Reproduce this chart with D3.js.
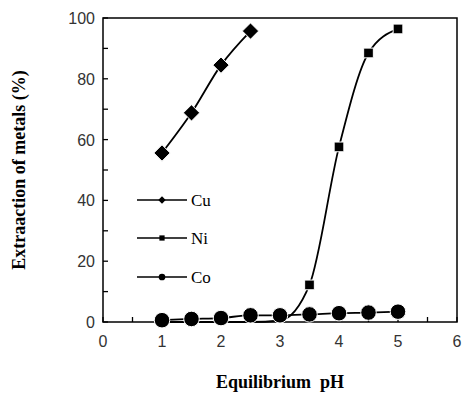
<!DOCTYPE html>
<html><head><meta charset="utf-8">
<script src="https://cdn.jsdelivr.net/npm/d3@7"></script>
<style>body{margin:0;background:#fff}</style>
</head><body><svg id="c" width="474" height="410"></svg>
<script>
const pH = [1, 1.5, 2, 2.5, 3, 3.5, 4, 4.5, 5];
const cu = [55.6, 68.8, 84.5, 95.7];
const ni = [0, 0, 0, 0, 0.5, 12.2, 57.6, 88.5, 96.4];
const co = [0.6, 1, 1.3, 2.2, 2.2, 2.5, 2.9, 3.1, 3.4];
const xTicks = [0, 1, 2, 3, 4, 5, 6];
const yTicks = [0, 20, 40, 60, 80, 100];

const m = { left: 103, right: 457, top: 18, bottom: 322 };
const svg = d3.select("#c");
const x = d3.scaleLinear().domain([0, 6]).range([m.left, m.right]);
const y = d3.scaleLinear().domain([0, 100]).range([m.bottom, m.top]);

svg.append("rect").attr("x", m.left).attr("y", m.top)
  .attr("width", m.right - m.left).attr("height", m.bottom - m.top)
  .attr("fill", "none").attr("stroke", "#000").attr("stroke-width", 1.5);

// inward ticks
const g = svg.append("g").attr("stroke", "#000").attr("stroke-width", 1.3);
d3.range(0, 6.01, 0.5).forEach(v => g.append("line").attr("x1", x(v)).attr("x2", x(v)).attr("y1", m.bottom).attr("y2", m.bottom - 5));
d3.range(0, 100.1, 10).forEach(v => g.append("line").attr("x1", m.left).attr("x2", m.left + 5).attr("y1", y(v)).attr("y2", y(v)));

const sans = "Liberation Sans, Arial, sans-serif";
svg.selectAll(".xt").data(xTicks).join("text").attr("x", d => x(d)).attr("y", m.bottom + 25)
  .attr("text-anchor", "middle").attr("font-family", sans).attr("font-size", 16).attr("fill", "#333").text(d => d);
svg.selectAll(".yt").data(yTicks).join("text").attr("x", m.left - 8).attr("y", d => y(d) + 6)
  .attr("text-anchor", "end").attr("font-family", sans).attr("font-size", 16).attr("fill", "#333").text(d => d);

const serif = "Liberation Serif, Times New Roman, serif";
svg.append("text").attr("x", x(3)).attr("y", 388).attr("text-anchor", "middle")
  .attr("font-family", serif).attr("font-weight", "bold").attr("font-size", 18).attr("xml:space", "preserve").text("Equilibrium  pH");
svg.append("text").attr("transform", `translate(25,${(m.top + m.bottom) / 2}) rotate(-90)`).attr("text-anchor", "middle")
  .attr("font-family", serif).attr("font-weight", "bold").attr("font-size", 18).text("Extraaction of metals (%)");

const line = d3.line().curve(d3.curveMonotoneX).x(d => x(d[0])).y(d => y(d[1]));
const series = [
  { name: "Cu", vals: cu, shape: d3.symbolDiamond2, size: 170 },
  { name: "Ni", vals: ni, shape: d3.symbolSquare2, size: 120 },
  { name: "Co", vals: co, shape: d3.symbolCircle, size: 190 }
];
series.forEach(s => {
  const pts = s.vals.map((v, i) => [pH[i], v]);
  svg.append("path").attr("d", line(pts)).attr("fill", "none").attr("stroke", "#000").attr("stroke-width", 1.8);
});
series.forEach(s => {
  const pts = s.vals.map((v, i) => [pH[i], v]);
  const shown = s.name === "Ni" ? pts.filter(p => p[0] >= 3.5) : pts;
  svg.selectAll(null).data(shown).join("path")
    .attr("d", d3.symbol(s.shape, s.size)).attr("transform", d => `translate(${x(d[0])},${y(d[1])})`)
    .attr("fill", "#000").attr("stroke", "#fff").attr("stroke-width", 1);
});

// legend
const ly = [200, 238, 277];
series.forEach((s, i) => {
  svg.append("line").attr("x1", 137).attr("x2", 187).attr("y1", ly[i]).attr("y2", ly[i]).attr("stroke", "#000").attr("stroke-width", 1.5);
  svg.append("path").attr("d", d3.symbol(s.shape, 35)).attr("transform", `translate(162,${ly[i]})`).attr("fill", "#000");
  svg.append("text").attr("x", 191).attr("y", ly[i] + 6).attr("font-family", serif).attr("font-size", 17).text(s.name);
});
</script></body></html>
